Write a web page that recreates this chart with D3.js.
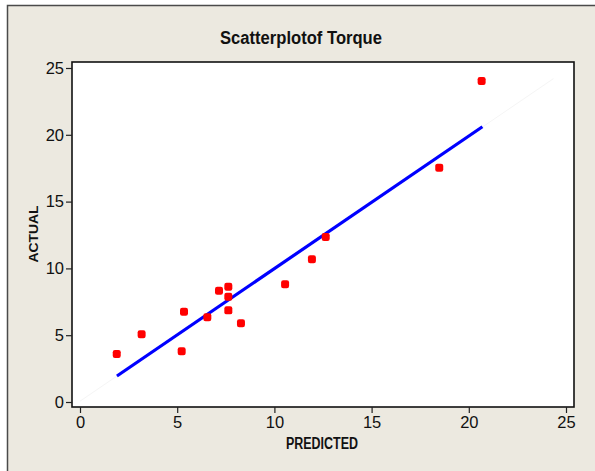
<!DOCTYPE html>
<html>
<head>
<meta charset="utf-8">
<script src="https://cdn.jsdelivr.net/npm/d3@7"></script>
<style>
  html, body { margin: 0; padding: 0; background: #ffffff; }
  svg { display: block; }
</style>
</head>
<body>
<svg id="chart" width="595" height="471"></svg>
<script>
// ---- data ----
const predicted = [1.89, 3.17, 5.23, 5.35, 6.55, 7.15, 7.63, 7.63, 7.63, 8.28, 10.55, 11.93, 12.64, 18.48, 20.66];
const actual    = [3.59, 5.07, 3.80, 6.76, 6.34, 8.33, 8.63, 7.88, 6.86, 5.89, 8.81, 10.68, 12.35, 17.54, 24.03];
const fitX = [1.9, 20.7];
const fitY = [1.95, 20.6];
const extX = [0, 24.35];
const extY = [0.06, 24.2];
const xTicks = [0, 5, 10, 15, 20, 25];
const yTicks = [0, 5, 10, 15, 20, 25];
const titleText = "Scatterplotof Torque";
const xLabel = "PREDICTED";
const yLabel = "ACTUAL";

const svg = d3.select("#chart");

// outer panel
svg.append("rect")
  .attr("x", 7.5).attr("y", 5.5)
  .attr("width", 620).attr("height", 500)
  .attr("fill", "#ECE9E0")
  .attr("stroke", "#4a4a4a").attr("stroke-width", 1.5);

const box = { left: 72, right: 574, top: 62, bottom: 407 };

const x = d3.scaleLinear().domain([0, 25]).range([80, 566]);
const y = d3.scaleLinear().domain([0, 25]).range([402, 68]);

// plot area
svg.append("rect")
  .attr("x", box.left).attr("y", box.top)
  .attr("width", box.right - box.left).attr("height", box.bottom - box.top)
  .attr("fill", "#ffffff")
  .attr("stroke", "#111").attr("stroke-width", 1.6);

const tickFont = "'Liberation Sans Narrow', 'Arial Narrow', sans-serif";

// y axis
const gy = svg.append("g")
  .attr("transform", `translate(${box.left},0)`)
  .call(d3.axisLeft(y).tickValues(yTicks).tickSize(6).tickPadding(2).tickFormat(d3.format("d")));
gy.select(".domain").remove();
gy.selectAll("line").attr("stroke", "#222").attr("stroke-width", 1.2);
gy.selectAll("text").attr("font-family", tickFont).attr("font-size", 16.5).attr("fill", "#111");

// x axis
const gx = svg.append("g")
  .attr("transform", `translate(0,${box.bottom})`)
  .call(d3.axisBottom(x).tickValues(xTicks).tickSize(6).tickPadding(3).tickFormat(d3.format("d")));
gx.select(".domain").remove();
gx.selectAll("line").attr("stroke", "#222").attr("stroke-width", 1.2);
gx.selectAll("text").attr("font-family", tickFont).attr("font-size", 16.5).attr("fill", "#111");

// faint extension of fit line
svg.append("line")
  .attr("x1", x(extX[0])).attr("y1", y(extY[0]))
  .attr("x2", x(extX[1])).attr("y2", y(extY[1]))
  .attr("stroke", "#f5f5f5").attr("stroke-width", 1);

// fit line
svg.append("line")
  .attr("x1", x(fitX[0])).attr("y1", y(fitY[0]))
  .attr("x2", x(fitX[1])).attr("y2", y(fitY[1]))
  .attr("stroke", "#0000ff").attr("stroke-width", 3.2);

// points
const pts = predicted.map((p, i) => ({ p, a: actual[i] }));
svg.append("g").selectAll("rect")
  .data(pts).join("rect")
  .attr("x", d => x(d.p) - 4).attr("y", d => y(d.a) - 4)
  .attr("width", 8).attr("height", 8)
  .attr("rx", 2.2).attr("ry", 2.2)
  .attr("fill", "#ff0000");

// title
svg.append("text")
  .attr("x", 301).attr("y", 44)
  .attr("text-anchor", "middle")
  .attr("font-family", tickFont).attr("font-weight", "bold").attr("font-size", 18)
  .attr("textLength", 162).attr("lengthAdjust", "spacingAndGlyphs")
  .attr("fill", "#111")
  .text(titleText);

// x label
svg.append("text")
  .attr("x", 322).attr("y", 449)
  .attr("text-anchor", "middle")
  .attr("font-family", tickFont).attr("font-weight", "bold").attr("font-size", 16)
  .attr("textLength", 72).attr("lengthAdjust", "spacingAndGlyphs")
  .attr("fill", "#111")
  .text(xLabel);

// y label
svg.append("text")
  .attr("transform", "translate(38,234) rotate(-90)")
  .attr("text-anchor", "middle")
  .attr("font-family", "'Liberation Sans', Arial, sans-serif").attr("font-weight", "bold").attr("font-size", 12.5)
  .attr("textLength", 57).attr("lengthAdjust", "spacingAndGlyphs")
  .attr("fill", "#111")
  .text(yLabel);
</script>
</body>
</html>
